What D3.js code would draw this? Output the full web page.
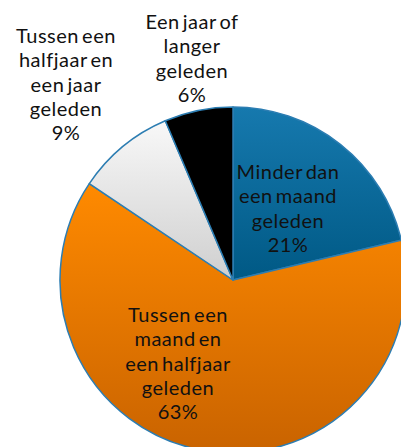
<!DOCTYPE html>
<html><head><meta charset="utf-8">
<script src="https://cdn.jsdelivr.net/npm/d3@7"></script>
<style>html,body{margin:0;padding:0;background:#fff;}</style>
</head><body>
<svg id="c" width="401" height="447"></svg>
<script>
const categories = ["Minder dan een maand geleden","Tussen een maand en een halfjaar geleden","Tussen een halfjaar en een jaar geleden","Een jaar of langer geleden"];
const values = [21.3, 63.1, 9.2, 6.4];
const labelLines = [["Minder dan","een maand","geleden"],["Tussen een","maand en","een halfjaar","geleden"],["Tussen een","halfjaar en","een jaar","geleden"],["Een jaar of","langer","geleden"]];
const colorsTop = ["#1679ae","#ff8a00","#f8f8f8","#000000"];
const colorsBottom = ["#005985","#c96300","#cfcfcf","#000000"];
const labelPos = [[288,179],[178,322],[66,43],[192,29]];

const svg = d3.select("#c");
const cx = 233, cy = 280, R = 173;
const defs = svg.append("defs");
values.forEach((v,i)=>{
  const g = defs.append("linearGradient").attr("id","g"+i).attr("x1",0).attr("y1",0).attr("x2",0).attr("y2",1);
  g.append("stop").attr("offset","0%").attr("stop-color",colorsTop[i]);
  g.append("stop").attr("offset","100%").attr("stop-color",colorsBottom[i]);
});
const pie = d3.pie().sort(null).value(d=>d);
const arc = d3.arc().innerRadius(0).outerRadius(R);
const g = svg.append("g").attr("transform",`translate(${cx},${cy})`);
g.selectAll("path").data(pie(values)).join("path")
  .attr("d",arc).attr("fill",(d,i)=>`url(#g${i})`)
  .attr("stroke","#2c7db2").attr("stroke-width",1.5).attr("stroke-linejoin","round");

const lh = 24.3;
labelLines.forEach((lines,i)=>{
  const t = svg.append("text").attr("text-anchor","middle")
    .attr("font-family","Lato, 'Open Sans', sans-serif").attr("font-size",20).attr("fill","#111")
    .style("word-spacing","-2.5px").style("letter-spacing","0.5px");
  const all = lines.concat([Math.round(values[i])+"%"]);
  all.forEach((l,j)=>{
    t.append("tspan").attr("x",labelPos[i][0]).attr("y",labelPos[i][1]+j*lh).text(l);
  });
});
</script>
</body></html>
